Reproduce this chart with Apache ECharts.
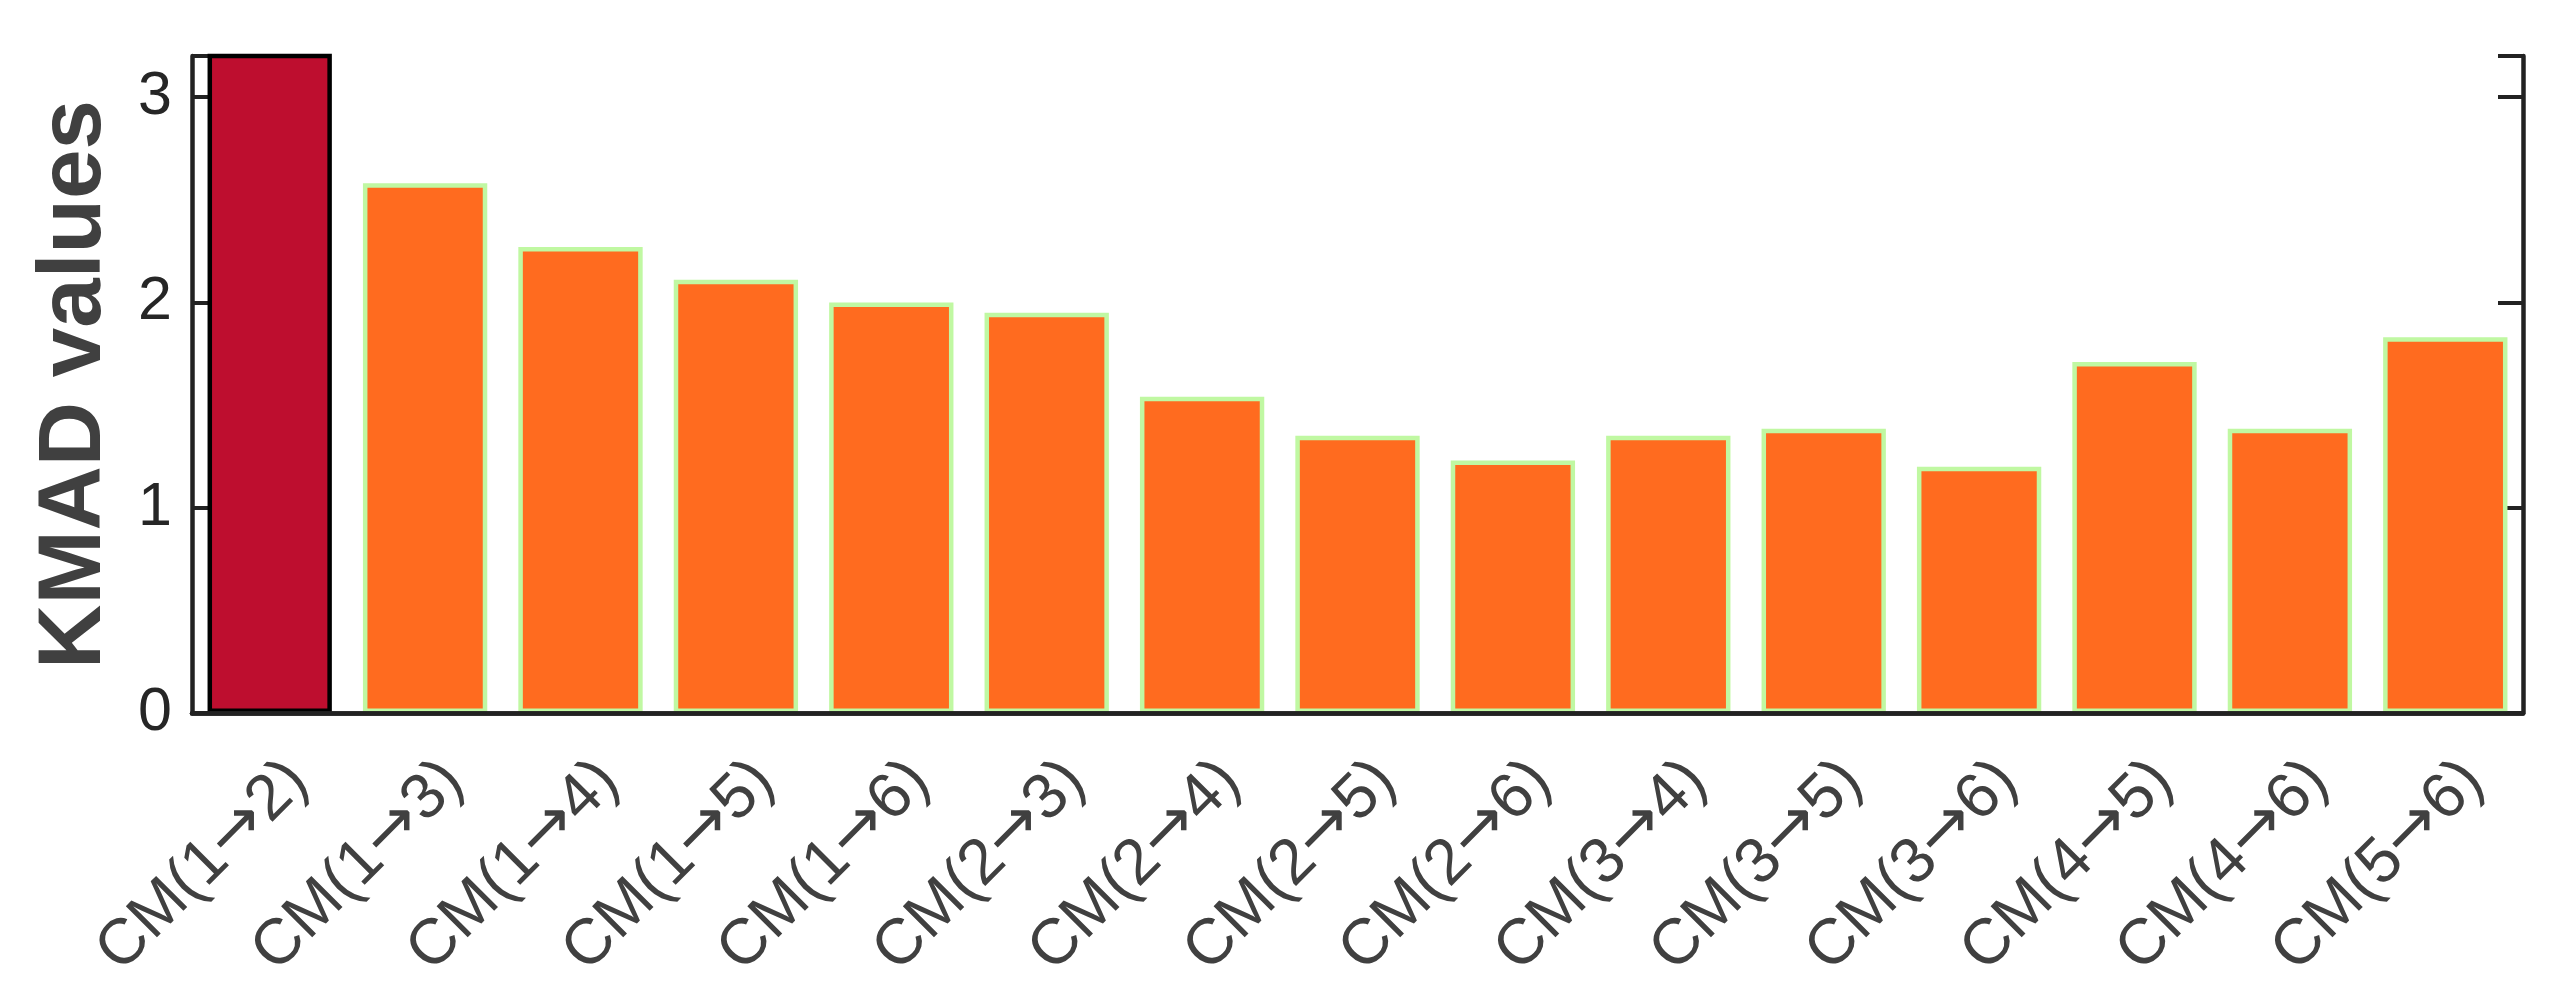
<!DOCTYPE html>
<html lang="en">
  <head>
    <meta charset="UTF-8" />
    <title>KMAD values</title>
    <style>
      html, body { margin: 0; padding: 0; background: #fff; }
      #chart { width: 2569px; height: 992px; }
    </style>
    <script src="https://cdn.jsdelivr.net/npm/echarts@6/dist/echarts.min.js"></script>
  </head>
  <body>
    <div id="chart"></div>
    <script>
      const categories = [
        "CM(1\u21922)", "CM(1\u21923)", "CM(1\u21924)", "CM(1\u21925)", "CM(1\u21926)",
        "CM(2\u21923)", "CM(2\u21924)", "CM(2\u21925)", "CM(2\u21926)", "CM(3\u21924)",
        "CM(3\u21925)", "CM(3\u21926)", "CM(4\u21925)", "CM(4\u21926)", "CM(5\u21926)"
      ];
      const kmadValues = [3.6, 2.58, 2.27, 2.11, 2.0, 1.95, 1.54, 1.35, 1.23, 1.35, 1.385, 1.2, 1.71, 1.385, 1.83];
      const yTicks = [0, 1, 2, 3];
      const highlightIndex = 0;

      const font = "'Liberation Sans', Arial, sans-serif";
      const axisColor = "#222222";

      let barData = kmadValues.map(function (v, i) {
        if (i === highlightIndex) {
          return { value: v, itemStyle: { color: "#BE0E2F", borderColor: "#000000" } };
        }
        return { value: v };
      });

      // the arrow is drawn with a wider glyph than Liberation Sans has
      function labelWithArrow(name) {
        let parts = name.split("\u2192");
        return "{t|" + parts[0] + "}{a|\u2192}{t|" + parts[1] + "}";
      }

      let chart = echarts.init(document.getElementById("chart"), null, { renderer: "canvas" });
      let option = {
        animation: false,
        grid: { left: 192, right: 46, top: 56, bottom: 279, outerBoundsMode: "none" },
        xAxis: [
          {
            type: "category",
            data: categories,
            z: 5,
            axisLine: { lineStyle: { color: axisColor, width: 4.5 } },
            axisTick: { inside: true, alignWithLabel: true, length: 22, lineStyle: { color: axisColor, width: 4 } },
            axisLabel: {
              rotate: 45,
              interval: 0,
              margin: 30,
              verticalAlign: "top",
              lineHeight: 80,
              fontSize: 64,
              fontFamily: font,
              color: "#404040",
              formatter: labelWithArrow,
              rich: {
                t: { fontFamily: font, fontSize: 64, color: "#404040", lineHeight: 80 },
                a: { fontFamily: "DejaVu Sans", fontSize: 66, color: "#404040", lineHeight: 80 }
              }
            }
          },
          {
            type: "category",
            data: categories,
            position: "top",
            z: 5,
            axisLine: { lineStyle: { color: axisColor, width: 4.5 } },
            axisTick: { inside: true, alignWithLabel: true, length: 23, lineStyle: { color: axisColor, width: 4 } },
            axisLabel: { show: false }
          }
        ],
        yAxis: [
          {
            type: "value",
            min: 0,
            max: 3.2,
            interval: 1,
            name: "KMAD values",
            nameLocation: "middle",
            nameGap: 72,
            nameMoveOverlap: false,
            nameTextStyle: { fontSize: 89, fontWeight: "bold", fontFamily: font, color: "#404040" },
            splitLine: { show: false },
            axisLine: { show: true, lineStyle: { color: axisColor, width: 4.5 } },
            axisTick: { show: true, inside: true, length: 25, lineStyle: { color: axisColor, width: 4 } },
            axisLabel: {
              margin: 20,
              fontSize: 61,
              fontFamily: font,
              color: "#262626",
              formatter: function (v) { return yTicks.indexOf(v) >= 0 ? String(v) : ""; }
            }
          },
          {
            type: "value",
            min: 0,
            max: 3.2,
            interval: 1,
            position: "right",
            splitLine: { show: false },
            axisLine: { show: true, lineStyle: { color: axisColor, width: 4.5 } },
            axisTick: { show: true, inside: true, length: 25, lineStyle: { color: axisColor, width: 4 } },
            axisLabel: { show: false }
          }
        ],
        series: [
          {
            type: "bar",
            data: barData,
            barWidth: "80%",
            clip: true,
            itemStyle: { color: "#FF6B1F", borderColor: "#C0F8A2", borderWidth: 4.5 }
          }
        ]
      };
      chart.setOption(option);
    </script>
  </body>
</html>
